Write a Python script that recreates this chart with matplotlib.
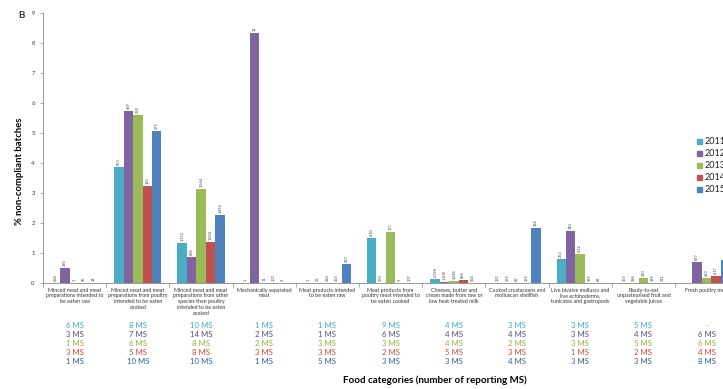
import numpy as np
import matplotlib
matplotlib.use('Agg')
import matplotlib.pyplot as plt
from matplotlib.patches import Rectangle

plt.rcParams['font.family'] = ['Lato', 'DejaVu Sans']

years = ['2011', '2012', '2013', '2014', '2015']
bar_colors = ['#4BACC6', '#8064A2', '#9BBB59', '#C0504D', '#4F81BD']
ms_colors = ['#3FA9C5', '#5B4A80', '#8DB43F', '#D9462E', '#2E5E9E']

categories = [
    'Minced meat and meat\npreparations intended to\nbe eaten raw',
    'Minced meat and meat\npreparations from poultry\nintended to be eaten\ncooked',
    'Minced meat and meat\npreparations from other\nspecies than poultry\nintended to be eaten\ncooked',
    'Mechanically separated\nmeat',
    'Meat products intended\nto be eaten raw',
    'Meat products from\npoultry meat intended to\nbe eaten cooked',
    'Cheeses, butter and\ncream made from raw or\nlow heat-treated milk',
    'Cooked crustaceans and\nmolluscan shellfish',
    'Live bivalve molluscs and\nlive echinoderms,\ntunicates and gastropods',
    'Ready-to-eat\nunpasteurised fruit and\nvegetable juices',
    'Fresh poultry meat',
]

# % non-compliant batches
pct_2011 = [0, 3.86, 1.34, 0, 0, 1.5, 0.12, 0, 0.79, 0, np.nan]
pct_2012 = [0.51, 5.73, 0.88, 8.32, 0, 0, 0.02, 0, 1.74, 0, 0.69]
pct_2013 = [0, 5.6, 3.12, 0, 0, 1.69, 0.07, 0, 0.96, 0.16, 0.16]
pct_2014 = [0, 3.23, 1.38, 0, 0, 0, 0.11, 0, 0, 0, 0.23]
pct_2015 = [0, 5.07, 2.27, 0, 0.63, 0, 0, 1.82, 0, 0, 0.77]

# number of batches tested (bar labels)
n_2011 = ['624', '553', '1,352', '1', '1', '410', '2,198', '131', '252', '155', '']
n_2012 = ['390', '689', '874', '12', '32', '370', '1,108', '385', '340', '396', '677']
n_2013 = ['1', '538', '1,564', '11', '214', '177', '1,285', '82', '412', '390', '613']
n_2014 = ['95', '185', '1,004', '103', '325', '9', '896', '185', '195', '199', '417']
n_2015 = ['14', '375', '1,456', '2', '317', '107', '534', '164', '81', '211', '']

# number of reporting member states
ms_2011 = ['6', '8', '10', '1', '1', '9', '4', '3', '3', '5', '-']
ms_2012 = ['3', '7', '14', '2', '1', '6', '4', '4', '3', '4', '6']
ms_2013 = ['1', '6', '8', '2', '3', '3', '4', '2', '3', '5', '6']
ms_2014 = ['3', '5', '8', '3', '3', '2', '5', '3', '1', '2', '4']
ms_2015 = ['1', '10', '10', '1', '5', '3', '3', '4', '3', '3', '8']

pcts = [pct_2011, pct_2012, pct_2013, pct_2014, pct_2015]
counts = [n_2011, n_2012, n_2013, n_2014, n_2015]
ms = [ms_2011, ms_2012, ms_2013, ms_2014, ms_2015]

W, H = 723, 389
fig = plt.figure(figsize=(W / 100, H / 100), dpi=100)
# chart is cropped on the right, so the axes run past the figure edge
left_px, right_px, top_px, base_px = 43, 43 + 11 * 63.2, 13, 283
ax = fig.add_axes([left_px / W, 1 - base_px / H,
                   (right_px - left_px) / W, (base_px - top_px) / H])

x = np.arange(len(categories))
bw = 0.15
for i, (vals, labs, c) in enumerate(zip(pcts, counts, bar_colors)):
    xs = x + (i - 2) * bw
    ax.bar(xs, vals, width=bw, color=c, linewidth=0)
    for xi, v, lab in zip(xs, vals, labs):
        if np.isnan(v) or lab == '':
            continue
        ax.annotate(lab, (xi, v), xytext=(0, 1.5), textcoords='offset points',
                    rotation=90, ha='center', va='bottom', fontsize=2.8,
                    color='#444444')

ax.set_xlim(-0.5, len(categories) - 0.5)
ax.set_ylim(0, 9)
ax.set_yticks(range(10))
ax.tick_params(axis='y', labelsize=4.2, labelcolor='#333333', length=2,
               width=0.5, color='#888888', pad=4)
ax.set_xticks(np.arange(len(categories) + 1) - 0.5)
ax.set_xticklabels([])
ax.tick_params(axis='x', length=3, width=0.5, color='#888888')
for s in ['top', 'right']:
    ax.spines[s].set_visible(False)
for s in ['left', 'bottom']:
    ax.spines[s].set_color('#888888')
    ax.spines[s].set_linewidth(0.6)

# category names and MS counts under the axis
trans = ax.get_xaxis_transform()
for xi, cat in zip(x, categories):
    ax.annotate(cat, (xi, 0), xycoords=trans, xytext=(0, -3.3),
                textcoords='offset points', ha='center', va='top',
                fontsize=3.8, color='#333333', linespacing=1.2,
                annotation_clip=False)
row_px = [42.7, 51.7, 60.7, 69.5, 78.7]
for r, (row, c) in enumerate(zip(ms, ms_colors)):
    for xi, m in zip(x, row):
        txt = '-' if m == '-' else m + ' MS'
        ax.annotate(txt, (xi, 0), xycoords=trans, xytext=(0, -row_px[r] * 0.72),
                    textcoords='offset points', ha='center', va='center',
                    fontsize=5.6, color=c, annotation_clip=False)

fig.text(20 / W, 1 - 171 / H, '% non-compliant batches', rotation=90,
         ha='center', va='center', fontsize=6.8, fontweight='bold')
fig.text(435 / W, 1 - 380 / H, 'Food categories (number of reporting MS)',
         ha='center', va='center', fontsize=7, fontweight='bold')
fig.text(21 / W, 1 - 15 / H, 'B', ha='center', va='center', fontsize=7,
         fontweight='bold', color='#333333')

# legend (cut by the right edge like in the source)
leg_y = [141.7, 153.7, 165.7, 177.7, 189.9]
for yr, c, yp in zip(years, bar_colors, leg_y):
    fig.add_artist(Rectangle((697 / W, 1 - (yp + 2.5) / H), 5 / W, 5 / H,
                             transform=fig.transFigure, color=c))
    fig.text(705 / W, 1 - yp / H, yr, ha='left', va='center', fontsize=6.5,
             color='#222222')

fig.savefig('out.png', dpi=100)
